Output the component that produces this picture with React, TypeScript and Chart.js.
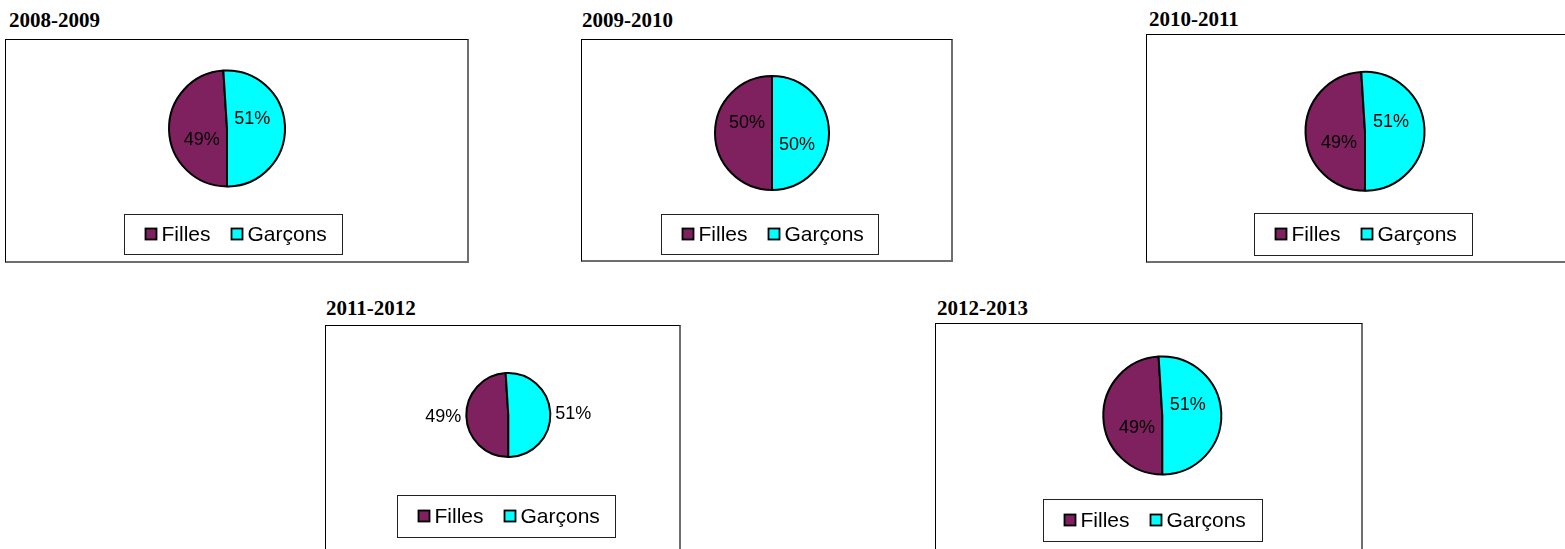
import React, { useEffect, useRef } from "react";
import { Chart, registerables } from "chart.js";

Chart.register(...registerables);

// ---------- data ----------
const categories = ["Filles", "Garçons"];
const years = ["2008-2009", "2009-2010", "2010-2011", "2011-2012", "2012-2013"];
const filles = [49, 50, 49, 49, 49];
const garcons = [51, 50, 51, 51, 51];
const sliceColors = ["#7E215E", "#00FFFF"];

// ---------- layout (page coordinates) ----------
type Panel = {
  box: [number, number, number, number]; // x0, y0, x1, y1
  titleX: number;
  titleBase: number;
  cx: number;
  cy: number;
  r: number;
  legend: [number, number, number, number]; // x0, y0, x1, y1
  labelShift: number;
  labelDist: number;
  outside: boolean;
};

const panels: Panel[] = [
  { box: [5, 39, 469, 263], titleX: 10, titleBase: 28, cx: 227, cy: 128.5, r: 59, legend: [124, 214, 342, 254], labelShift: -20, labelDist: 0.47, outside: false },
  { box: [581, 39, 953, 262], titleX: 583, titleBase: 28, cx: 772, cy: 133, r: 58, legend: [661, 214, 878, 254], labelShift: 24, labelDist: 0.48, outside: false },
  { box: [1146, 34, 1590, 263], titleX: 1150, titleBase: 27, cx: 1365, cy: 131.3, r: 60.5, legend: [1254, 213, 1472, 255], labelShift: -20, labelDist: 0.47, outside: false },
  { box: [325, 325, 681, 570], titleX: 327, titleBase: 316, cx: 508.3, cy: 415, r: 43, legend: [397, 495, 615, 537], labelShift: 0, labelDist: 0, outside: true },
  { box: [935, 323, 1363, 570], titleX: 938, titleBase: 316, cx: 1162.3, cy: 415.5, r: 60, legend: [1043, 499, 1262, 541], labelShift: -22, labelDist: 0.47, outside: false },
];

const SANS = "'Liberation Sans', Arial, sans-serif";

const extrasPlugin = {
  id: "pieExtras",
  afterDatasetsDraw(chart: any, _args: any, opts: any) {
    const ctx = chart.ctx as CanvasRenderingContext2D;
    const meta = chart.getDatasetMeta(0);
    const ds = chart.data.datasets[0];
    const values = ds.data as number[];
    const total = values.reduce((a, b) => a + b, 0);
    ctx.save();
    ctx.font = `18px ${SANS}`;
    ctx.fillStyle = "#000";
    ctx.textBaseline = "middle";
    meta.data.forEach((arc: any, i: number) => {
      const p = arc.getProps(["x", "y", "startAngle", "endAngle", "outerRadius"], true);
      const mid = (p.startAngle + p.endAngle) / 2 + (opts.labelShift * Math.PI) / 180;
      const text = Math.round((values[i] / total) * 100) + "%";
      const c = Math.cos(mid);
      const s = Math.sin(mid);
      if (opts.outside) {
        const d = p.outerRadius + 5;
        ctx.textAlign = c >= 0 ? "left" : "right";
        ctx.fillText(text, p.x + c * d, p.y + s * d + 1);
      } else {
        const d = p.outerRadius * opts.labelDist;
        ctx.textAlign = "center";
        ctx.fillText(text, p.x + c * d, p.y + s * d + 1);
      }
    });
    ctx.restore();
  },
  afterDraw(chart: any, _args: any, opts: any) {
    const ctx = chart.ctx as CanvasRenderingContext2D;
    const [lx0, ly0, lx1, ly1] = opts.legendRect;
    ctx.save();
    ctx.fillStyle = "#fff";
    ctx.fillRect(lx0, ly0, lx1 - lx0, ly1 - ly0);
    ctx.strokeStyle = "#222";
    ctx.lineWidth = 1;
    ctx.strokeRect(Math.round(lx0) + 0.5, Math.round(ly0) + 0.5, Math.round(lx1 - lx0), Math.round(ly1 - ly0));
    const cyL = (ly0 + ly1) / 2;
    ctx.font = `21px ${SANS}`;
    ctx.textBaseline = "middle";
    ctx.textAlign = "left";
    let x = lx0 + 21.5;
    const labels = chart.data.labels as string[];
    const bg = chart.data.datasets[0].backgroundColor as string[];
    labels.forEach((lab: string, i: number) => {
      const sz = 11;
      ctx.fillStyle = bg[i];
      ctx.fillRect(x, cyL - sz / 2, sz, sz);
      ctx.strokeStyle = "#000";
      ctx.lineWidth = 1.8;
      ctx.strokeRect(x, cyL - sz / 2, sz, sz);
      ctx.fillStyle = "#000";
      ctx.fillText(lab, x + sz + 5, cyL + 1);
      x += sz + 5 + ctx.measureText(lab).width + 21;
    });
    ctx.restore();
  },
};

function PiePanel({ idx }: { idx: number }) {
  const ref = useRef<HTMLCanvasElement | null>(null);
  const p = panels[idx];
  const [bx0, by0, bx1, by1] = p.box;
  const bl = 1, bt = 1, br = 2, bb = 2;
  const cw = bx1 - bx0 - bl - br;
  const ch = by1 - by0 - bt - bb;
  const ox = bx0 + bl;
  const oy = by0 + bt;

  useEffect(() => {
    if (!ref.current) return;
    const lcx = p.cx - ox;
    const lcy = p.cy - oy;
    const chart = new Chart(ref.current, {
      type: "pie",
      data: {
        labels: categories,
        datasets: [
          {
            data: [filles[idx], garcons[idx]],
            backgroundColor: sliceColors,
            borderColor: "#000",
            borderWidth: 2,
            rotation: 180,
          } as any,
        ],
      },
      options: {
        responsive: false,
        animation: false,
        events: [],
        layout: {
          padding: {
            left: lcx - p.r,
            right: cw - lcx - p.r,
            top: lcy - p.r,
            bottom: ch - lcy - p.r,
          },
        },
        plugins: {
          legend: { display: false },
          tooltip: { enabled: false },
          title: { display: false },
          pieExtras: {
            labelShift: p.labelShift,
            labelDist: p.labelDist,
            outside: p.outside,
            legendRect: [p.legend[0] - ox, p.legend[1] - oy, p.legend[2] - ox, p.legend[3] - oy],
          },
        } as any,
      },
      plugins: [extrasPlugin as any],
    });
    return () => chart.destroy();
  }, [idx]);

  return (
    <>
      <div
        style={{
          position: "absolute",
          left: p.titleX - 1,
          top: p.titleBase - 17.6,
          fontFamily: "'Liberation Serif', 'Times New Roman', serif",
          fontWeight: "bold",
          fontSize: 21,
          lineHeight: "21px",
          color: "#000",
          whiteSpace: "nowrap",
        }}
      >
        {years[idx]}
      </div>
      <div
        style={{
          position: "absolute",
          left: bx0,
          top: by0,
          width: bx1 - bx0,
          height: by1 - by0,
          boxSizing: "border-box",
          borderTop: `${bt}px solid #000`,
          borderLeft: `${bl}px solid #000`,
          borderRight: `${br}px solid #6e6e6e`,
          borderBottom: `${bb}px solid #6e6e6e`,
          background: "#fff",
        }}
      >
        <canvas ref={ref} width={cw} height={ch} style={{ display: "block", width: cw, height: ch }} />
      </div>
    </>
  );
}

export default function App() {
  return (
    <div
      style={{
        position: "fixed",
        left: 0,
        top: 0,
        width: 1565,
        height: 549,
        overflow: "hidden",
        background: "#fff",
      }}
    >
      {panels.map((_, i) => (
        <PiePanel key={i} idx={i} />
      ))}
    </div>
  );
}
